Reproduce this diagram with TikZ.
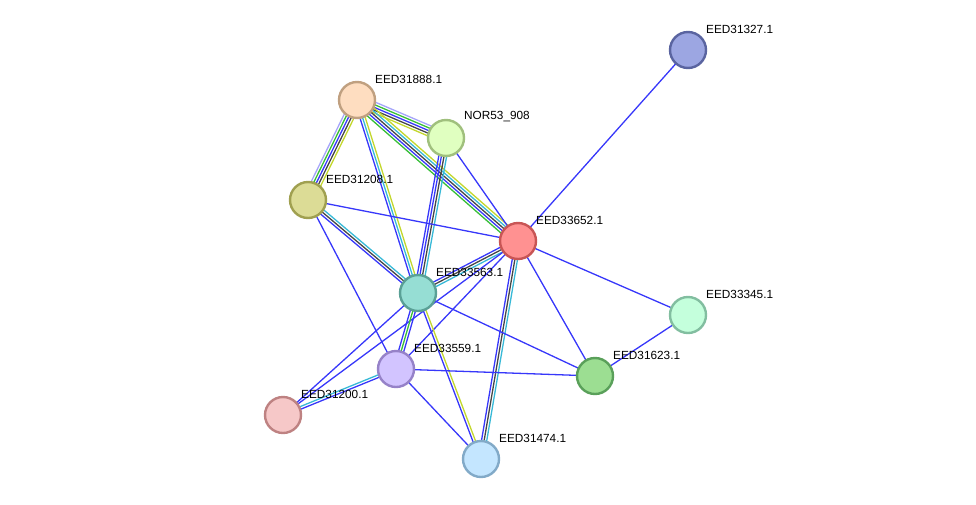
\documentclass[tikz,border=0pt]{standalone}
\usepackage{fontspec}
\setmainfont{Liberation Sans}
\usetikzlibrary{calc,backgrounds}
\definecolor{eblue}{RGB}{55,55,250}
\definecolor{edark}{RGB}{70,70,70}
\definecolor{ecyan}{RGB}{55,185,215}
\definecolor{eyellow}{RGB}{195,215,45}
\definecolor{egreen}{RGB}{55,190,55}
\definecolor{eviolet}{RGB}{165,165,250}
\tikzset{
  prot/.style={circle,minimum size=36pt,inner sep=0pt,line width=2.4pt},
  lab/.style={anchor=west,font=\fontsize{11.8}{12}\selectfont,inner sep=0pt},
  edge/.style={line width=1.3pt},
}
\newcommand\multiedge[4]{%
  \foreach \c [count=\i] in {#4}{%
    \pgfmathsetmacro\off{(\i-(#3+1)/2)*2.6}%
    \draw[edge,\c] ($(#1.center)!\off pt!90:(#2.center)$) -- ($(#2.center)!\off pt!-90:(#1.center)$);
  }%
}
\newcommand\prot[6]{%
  \definecolor{f#1}{RGB}{#4}\definecolor{d#1}{RGB}{#5}%
  \node[prot,fill=f#1,draw=d#1] (#1) at (#2,#3) {};
  \node[lab] (l#1) at ($(#1.center)+(18,-21)$) {#6};
}
\begin{document}
\begin{tikzpicture}[x=1pt,y=-1pt]
\useasboundingbox (0,0) rectangle (976,504);
\prot{a}{357}{100}{254,221,192}{192,160,128}{EED31888.1}
\prot{b}{446}{138}{224,255,192}{160,192,125}{NOR53\_908}
\prot{c}{308}{200}{220,220,150}{160,160,80}{EED31208.1}
\prot{d}{518}{241}{255,145,145}{200,85,85}{EED33652.1}
\prot{e}{418}{293}{150,222,212}{90,160,150}{EED33563.1}
\prot{f}{396}{369}{210,196,255}{150,130,200}{EED33559.1}
\prot{g}{283}{415}{246,200,200}{190,130,130}{EED31200.1}
\prot{h}{481}{459}{196,230,255}{130,170,200}{EED31474.1}
\prot{i}{595}{376}{156,222,146}{90,160,90}{EED31623.1}
\prot{j}{688}{315}{196,255,220}{130,190,160}{EED33345.1}
\prot{k}{688}{50}{156,166,226}{90,100,160}{EED31327.1}
\begin{pgfonlayer}{background}
\multiedge{a}{b}{5}{eyellow,edark,eblue,egreen,eviolet}
\multiedge{a}{c}{5}{eviolet,egreen,eblue,edark,eyellow}
\multiedge{a}{d}{5}{egreen,eblue,edark,ecyan,eyellow}
\multiedge{a}{e}{3}{eblue,ecyan,eyellow}
\multiedge{b}{e}{4}{eblue,eblue,edark,ecyan}
\multiedge{b}{d}{1}{eblue}
\multiedge{c}{e}{3}{eblue,edark,ecyan}
\multiedge{c}{d}{1}{eblue}
\multiedge{c}{f}{1}{eblue}
\multiedge{d}{e}{3}{eblue,edark,ecyan}
\multiedge{d}{h}{3}{eblue,edark,ecyan}
\multiedge{d}{g}{1}{eblue}
\multiedge{d}{f}{1}{eblue}
\multiedge{d}{i}{1}{eblue}
\multiedge{d}{j}{1}{eblue}
\multiedge{d}{k}{1}{eblue}
\multiedge{e}{f}{3}{eblue,egreen,eblue}
\multiedge{e}{g}{1}{eblue}
\multiedge{e}{i}{1}{eblue}
\multiedge{e}{h}{2}{eblue,eyellow}
\multiedge{f}{g}{2}{ecyan,eblue}
\multiedge{f}{i}{1}{eblue}
\multiedge{f}{h}{1}{eblue}
\multiedge{i}{j}{1}{eblue}
\end{pgfonlayer}
\end{tikzpicture}
\end{document}
